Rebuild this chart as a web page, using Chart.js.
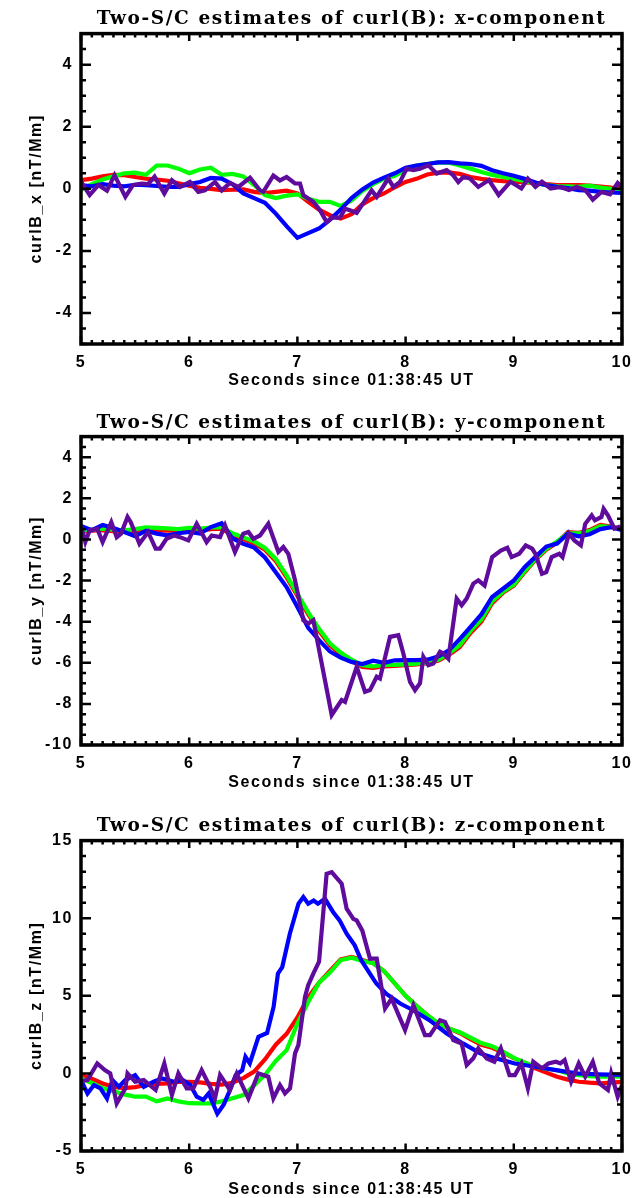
<!DOCTYPE html>
<html><head><meta charset="utf-8">
<script src="https://cdn.jsdelivr.net/npm/chart.js@4.4.1/dist/chart.umd.min.js"></script>
<style>
html,body{margin:0;padding:0;background:#fff;}
body{width:644px;height:1198px;position:relative;overflow:hidden;}
.panel{position:absolute;left:0;width:644px;}
canvas{display:block;}
</style></head><body>
<div class="panel" style="top:0;height:400px"><canvas id="c1" width="644" height="400"></canvas></div>
<div class="panel" style="top:400px;height:400px"><canvas id="c2" width="644" height="400"></canvas></div>
<div class="panel" style="top:800px;height:398px"><canvas id="c3" width="644" height="398"></canvas></div>
<script>
// ---------------- data ----------------
const X_TICKS = [5, 6, 7, 8, 9, 10];
const Y_TICKS_X = [-4, -2, 0, 2, 4];
const Y_TICKS_Y = [-10, -8, -6, -4, -2, 0, 2, 4];
const Y_TICKS_Z = [-5, 0, 5, 10, 15];

const T_SMOOTH = [5.0,5.1,5.2,5.3,5.4,5.5,5.6,5.7,5.8,5.9,6.0,6.1,6.2,6.3,6.4,6.5,6.6,6.7,6.8,6.9,
  7.0,7.1,7.2,7.3,7.4,7.5,7.6,7.7,7.8,7.9,8.0,8.1,8.2,8.3,8.4,8.5,8.6,8.7,8.8,8.9,
  9.0,9.1,9.2,9.3,9.4,9.5,9.6,9.7,9.8,9.9,10.0];

// x-component
const X_RED = [0.28,0.33,0.40,0.45,0.44,0.38,0.33,0.30,0.26,0.18, 0.10,0.03,0.00,-0.04,-0.03,-0.02,-0.10,-0.14,-0.10,-0.06,
  -0.15,-0.42,-0.67,-0.85,-0.96,-0.82,-0.50,-0.30,-0.15,0.05, 0.22,0.32,0.46,0.52,0.53,0.48,0.38,0.32,0.28,0.25,
  0.23,0.21,0.19,0.15,0.12,0.12,0.12,0.10,0.07,0.04, 0.02];
const X_GREEN = [-0.04,0.15,0.30,0.40,0.50,0.52,0.45,0.75,0.75,0.65, 0.50,0.62,0.68,0.45,0.48,0.40,0.12,-0.20,-0.30,-0.22,
  -0.18,-0.32,-0.42,-0.42,-0.55,-0.38,-0.07,0.15,0.32,0.42, 0.60,0.75,0.80,0.85,0.84,0.75,0.65,0.54,0.45,0.38,
  0.32,0.25,0.18,0.12,0.08,0.08,0.06,0.10,0.04,0.00, -0.04];
const X_BLUE = [0.12,0.08,0.15,0.10,0.08,0.13,0.12,0.09,0.06,0.06, 0.15,0.22,0.35,0.33,0.15,-0.15,-0.30,-0.45,-0.80,-1.20,
  -1.58,-1.43,-1.28,-1.00,-0.67,-0.30,-0.02,0.20,0.36,0.50, 0.68,0.75,0.80,0.85,0.86,0.82,0.80,0.74,0.60,0.50,
  0.42,0.32,0.20,0.12,0.06,0.02,-0.04,-0.06,-0.10,-0.12, -0.13];
const X_PURPLE_T = [5.0,5.08,5.16,5.24,5.31,5.41,5.48,5.56,5.62,5.68,5.77,5.84,5.915,6.007,6.084,6.146,6.238,6.3,6.377,6.454,
  6.562,6.654,6.685,6.778,6.839,6.9,6.978,7.024,7.055,7.147,7.209,7.27,7.317,7.394,7.44,7.486,7.548,7.625,7.686,7.733,
  7.779,7.84,7.887,7.948,8.01,8.072,8.133,8.21,8.287,8.38,8.441,8.487,8.534,8.595,8.672,8.77,8.86,8.97,9.07,9.13,
  9.2,9.26,9.34,9.43,9.51,9.58,9.66,9.73,9.81,9.89,9.96,10.0];
const X_PURPLE = [0.23,-0.2,0.12,-0.06,0.44,-0.26,0.12,0.17,0.15,0.39,-0.15,0.28,0.06,0.22,-0.1,-0.05,0.22,-0.05,0.19,0.06,
  0.36,-0.05,-0.1,0.43,0.27,0.38,0.17,0.17,-0.21,-0.42,-0.69,-1.07,-0.93,-0.93,-0.64,-0.69,-0.78,-0.37,-0.05,-0.26,
  0.0,0.33,0.06,0.22,0.65,0.6,0.65,0.76,0.49,0.6,0.43,0.22,0.38,0.33,0.06,0.28,-0.2,0.23,0.01,0.33,
  0.06,0.23,0.01,0.06,-0.04,0.06,-0.04,-0.35,-0.1,-0.18,0.19,0.06];

// y-component
const Y_RED = [0.38,0.42,0.45,0.40,0.36,0.40,0.45,0.45,0.42,0.42, 0.45,0.42,0.50,0.52,0.20,0.02,-0.20,-0.50,-1.05,-1.85,
  -2.75,-3.65,-4.45,-5.15,-5.60,-5.92,-6.20,-6.25,-6.18,-6.15, -6.12,-6.08,-6.02,-5.90,-5.62,-5.25,-4.55,-4.00,-3.10,-2.60,
  -2.25,-1.60,-1.00,-0.50,-0.15,0.35,0.32,0.45,0.70,0.62, 0.50];
const Y_GREEN = [0.44,0.48,0.52,0.48,0.44,0.50,0.58,0.56,0.54,0.50, 0.56,0.52,0.58,0.60,0.30,0.10,-0.10,-0.42,-0.95,-1.75,
  -2.65,-3.55,-4.35,-5.05,-5.50,-5.85,-6.12,-6.18,-6.10,-6.10, -6.08,-6.04,-5.98,-5.85,-5.55,-5.15,-4.45,-3.90,-3.00,-2.55,
  -2.20,-1.55,-0.95,-0.45,-0.10,0.30,0.30,0.40,0.65,0.60, 0.50];
const Y_BLUE = [0.65,0.45,0.70,0.55,0.36,0.15,0.42,0.28,0.20,0.30, 0.36,0.28,0.60,0.78,0.05,-0.21,-0.40,-0.88,-1.60,-2.32,
  -3.29,-4.30,-4.90,-5.45,-5.75,-5.96,-6.06,-5.90,-6.00,-5.88, -5.87,-5.87,-5.85,-5.70,-5.40,-4.85,-4.26,-3.65,-2.80,-2.40,
  -2.00,-1.35,-0.85,-0.35,-0.20,0.28,0.15,0.25,0.50,0.60, 0.45];
const Y_PURPLE_T = [5.0,5.04,5.08,5.15,5.2,5.28,5.33,5.37,5.43,5.46,5.54,5.62,5.69,5.73,5.79,5.86,5.915,5.992,6.069,6.161,
  6.208,6.285,6.331,6.423,6.5,6.547,6.593,6.654,6.731,6.824,6.87,6.916,6.978,7.055,7.101,7.147,7.317,7.409,7.44,7.548,
  7.625,7.671,7.733,7.763,7.856,7.933,7.979,8.041,8.087,8.133,8.164,8.21,8.256,8.318,8.349,8.395,8.472,8.518,8.564,8.626,
  8.672,8.73,8.8,8.88,8.94,8.98,9.05,9.11,9.17,9.2,9.26,9.3,9.35,9.42,9.45,9.51,9.56,9.62,9.66,9.72,
  9.75,9.81,9.83,9.87,9.93,9.97,10.0];
const Y_PURPLE = [0.68,-0.13,0.44,0.52,-0.13,0.84,0.11,0.28,1.09,0.84,-0.21,0.36,-0.45,-0.45,0.03,0.19,0.11,-0.05,0.76,-0.13,
  0.19,0.11,0.68,-0.61,0.28,0.36,0.03,0.19,0.76,-0.61,-0.37,-0.7,-1.99,-3.93,-4.09,-3.93,-8.54,-7.81,-7.9,-6.2,
  -7.41,-7.33,-6.68,-6.77,-4.74,-4.66,-5.55,-6.93,-7.33,-7.0,-5.71,-6.12,-6.04,-5.47,-5.55,-5.8,-2.88,-3.2,-2.88,-2.15,
  -1.99,-2.24,-0.86,-0.54,-0.41,-0.86,-0.7,-0.29,-0.45,-0.7,-1.67,-1.59,-0.86,-0.7,-0.86,0.28,-0.05,-0.29,0.76,1.17,
  0.93,1.09,1.49,1.17,0.52,0.6,0.44];

// z-component
const Z_RED = [-0.11,-0.35,-0.65,-0.88,-0.95,-0.88,-0.75,-0.68,-0.64,-0.55, -0.54,-0.58,-0.68,-0.72,-0.60,-0.30,0.12,0.90,1.85,2.55,
  3.60,4.90,5.85,6.60,7.35,7.50,7.30,7.10,6.60,5.80, 5.00,4.35,3.75,3.20,2.90,2.60,2.20,1.85,1.65,1.35,
  0.98,0.70,0.32,0.05,-0.21,-0.40,-0.54,-0.60,-0.64,-0.60, -0.55];
const Z_GREEN = [-0.32,-0.62,-0.95,-1.15,-1.35,-1.50,-1.50,-1.80,-1.62,-1.80, -1.92,-1.93,-1.93,-1.80,-1.60,-1.40,-0.78,-0.10,0.80,1.50,
  3.20,4.60,5.85,6.50,7.30,7.45,7.25,7.10,6.60,5.80, 5.00,4.35,3.75,3.25,2.90,2.65,2.30,1.95,1.75,1.40,
  1.00,0.70,0.43,0.30,0.20,0.00,-0.12,-0.18,-0.21,-0.21, -0.21];
const Z_BLUE_T = [5.0,5.06,5.12,5.18,5.24,5.29,5.35,5.41,5.5,5.58,5.67,5.75,5.86,5.94,6.01,6.07,6.13,6.18,6.26,6.32,
  6.37,6.43,6.49,6.52,6.56,6.64,6.72,6.78,6.82,6.86,6.93,7.01,7.055,7.1,7.15,7.19,7.255,7.33,7.39,7.455,
  7.53,7.59,7.67,7.73,7.82,7.95,8.07,8.22,8.38,8.53,8.69,8.82,9.01,9.2,9.39,9.58,9.77,10.0];
const Z_BLUE = [-0.43,-1.29,-0.75,-0.96,-1.61,-0.43,-0.86,-0.43,-0.11,-0.86,-0.54,-0.32,-0.54,-0.43,-0.75,-1.5,-1.71,-1.29,-2.6,-2.0,
  -1.18,-0.1,0.21,1.07,0.64,2.36,2.6,4.28,6.43,6.85,9.0,10.93,11.36,10.93,11.14,10.93,11.25,10.39,9.86,9.0,
  8.25,7.29,6.43,5.79,5.14,4.5,4.07,3.43,2.57,1.93,1.29,1.0,0.64,0.43,0.21,0.0,-0.06,-0.1];
const Z_PURPLE_T = [5.0,5.06,5.15,5.22,5.27,5.33,5.41,5.43,5.5,5.58,5.69,5.77,5.84,5.9,5.977,6.038,6.115,6.192,6.238,6.285,
  6.377,6.439,6.547,6.639,6.731,6.778,6.839,6.885,6.932,6.978,7.009,7.07,7.1,7.147,7.2,7.27,7.317,7.409,7.455,7.517,
  7.548,7.6,7.671,7.733,7.81,7.871,7.995,8.072,8.179,8.225,8.318,8.364,8.441,8.518,8.565,8.626,8.672,8.75,8.82,8.88,
  8.96,9.01,9.07,9.13,9.18,9.26,9.32,9.39,9.43,9.47,9.53,9.6,9.66,9.73,9.79,9.87,9.9,9.96,10.0];
const Z_PURPLE = [-0.49,-0.43,0.64,0.21,0.0,-1.93,-0.96,0.0,-0.54,-0.43,-1.07,0.64,-1.39,0.0,-0.96,-0.96,0.21,-0.86,-1.61,-0.11,
  -1.07,0.0,-1.61,0.0,-0.21,-1.61,-0.75,-1.29,-0.96,1.29,1.82,4.93,5.68,6.43,7.2,12.86,12.97,12.22,10.61,9.96,
  9.86,9.2,7.39,7.39,4.18,4.82,2.79,4.39,2.47,2.47,3.43,3.32,2.15,1.93,0.54,0.97,1.61,0.96,0.75,1.61,
  -0.11,-0.11,0.64,-0.96,0.75,0.32,0.64,0.75,0.64,0.86,-0.54,0.64,-0.21,0.75,-0.64,-1.07,0.0,-1.5,-0.75];

// ---------------- drawing ----------------
const COLORS = {red: '#ff0000', green: '#00ff00', blue: '#0000ff', purple: '#5f0c9c'};
const SANS = "'Liberation Sans', Arial, sans-serif";
const SERIF = "'DejaVu Serif', serif";

function pts(ts, vs) { return ts.map((t, i) => ({x: t, y: vs[i]})); }

const idlBox = {
  id: 'idlBox',
  beforeDraw(chart) { chart.ctx.letterSpacing = '1.6px'; },
  afterDraw(chart, args, o) {
    const {ctx, chartArea: a, scales: {x, y}} = chart;
    ctx.save();
    ctx.letterSpacing = '0px';
    ctx.strokeStyle = '#000';
    ctx.lineWidth = 2.5;
    ctx.beginPath();
    const nx = Math.round((x.max - x.min) / o.xMinor);
    for (let i = 0; i <= nx; i++) {
      const v = x.min + i * o.xMinor;
      const major = o.xMajor.some(m => Math.abs(m - v) < 1e-6);
      const len = major ? 7.5 : 4;
      const px = x.getPixelForValue(v);
      ctx.moveTo(px, a.bottom); ctx.lineTo(px, a.bottom - len);
      ctx.moveTo(px, a.top); ctx.lineTo(px, a.top + len);
    }
    const ny = Math.round((y.max - y.min) / o.yMinor);
    for (let i = 0; i <= ny; i++) {
      const v = y.min + i * o.yMinor;
      const major = o.yMajor.some(m => Math.abs(m - v) < 1e-6);
      const len = major ? 10 : 5;
      const py = y.getPixelForValue(v);
      ctx.moveTo(a.left, py); ctx.lineTo(a.left + len, py);
      ctx.moveTo(a.right, py); ctx.lineTo(a.right - len, py);
    }
    ctx.stroke();
    ctx.lineWidth = 3.5;
    ctx.strokeRect(a.left, a.top, a.right - a.left, a.bottom - a.top);
    ctx.restore();
  }
};

function line(label, data, color, order) {
  return {label, data, borderColor: color, backgroundColor: color, borderWidth: 4.2,
    pointRadius: 0, tension: 0, fill: false, order};
}

function makePanel(id, cfg) {
  const tickFont = {family: SANS, weight: 'bold', size: 16};
  new Chart(document.getElementById(id), {
    type: 'line',
    data: {datasets: [
      line('red', pts(T_SMOOTH, cfg.red), COLORS.red, 4),
      line('green', pts(T_SMOOTH, cfg.green), COLORS.green, 3),
      line('blue', pts(cfg.blueT, cfg.blue), COLORS.blue, 2),
      line('purple', pts(cfg.purpleT, cfg.purple), COLORS.purple, 1)
    ]},
    options: {
      responsive: false, animation: false, devicePixelRatio: 1,
      layout: {padding: {left: 0, right: 22, top: 0, bottom: 0}},
      plugins: {
        legend: {display: false}, tooltip: {enabled: false},
        title: {display: true, fullSize: false, text: cfg.title, color: '#000',
          font: {family: SERIF, weight: 'bold', size: 18.5, lineHeight: 1.2},
          padding: {top: cfg.titlePadTop, bottom: cfg.titlePadBottom}},
        idlBox: {xMinor: 0.1, xMajor: X_TICKS, yMinor: cfg.yMinor, yMajor: cfg.yTicks}
      },
      scales: {
        x: {type: 'linear', min: 5, max: 10,
          afterBuildTicks: s => { s.ticks = X_TICKS.map(v => ({value: v})); },
          afterFit: s => { s.height = cfg.xAxisH; },
          grid: {display: false, drawTicks: false}, border: {display: false},
          ticks: {padding: 9, color: '#000', font: tickFont, maxRotation: 0, autoSkip: false,
            callback: v => String(v)},
          title: {display: true, text: 'Seconds since 01:38:45 UT', color: '#000',
            font: {family: SANS, weight: 'bold', size: 16, lineHeight: 1},
            padding: {top: 0, bottom: cfg.xTitlePad}}
        },
        y: {type: 'linear', min: cfg.yMin, max: cfg.yMax,
          afterBuildTicks: s => { s.ticks = cfg.yTicks.map(v => ({value: v})); },
          afterFit: s => { s.width = 81; },
          grid: {display: false, drawTicks: false}, border: {display: false},
          ticks: {padding: 8, color: '#000', font: tickFont, callback: v => String(v)},
          title: {display: true, text: cfg.yTitle, color: '#000',
            font: {family: SANS, weight: 'bold', size: 16, lineHeight: 1},
            padding: {top: 29, bottom: 0}}
        }
      }
    },
    plugins: [idlBox]
  });
}

makePanel('c1', {title: 'Two-S/C estimates of curl(B): x-component', yTitle: 'curlB_x [nT/Mm]',
  yMin: -5, yMax: 5, yTicks: Y_TICKS_X, yMinor: 0.5,
  red: X_RED, green: X_GREEN, blueT: T_SMOOTH, blue: X_BLUE, purpleT: X_PURPLE_T, purple: X_PURPLE,
  titlePadTop: 7.7, titlePadBottom: 3.7, xAxisH: 56, xTitlePad: 11.5});
makePanel('c2', {title: 'Two-S/C estimates of curl(B): y-component', yTitle: 'curlB_y [nT/Mm]',
  yMin: -10, yMax: 5, yTicks: Y_TICKS_Y, yMinor: 0.5,
  red: Y_RED, green: Y_GREEN, blueT: T_SMOOTH, blue: Y_BLUE, purpleT: Y_PURPLE_T, purple: Y_PURPLE,
  titlePadTop: 12.2, titlePadBottom: 2.2, xAxisH: 55, xTitlePad: 9.5});
makePanel('c3', {title: 'Two-S/C estimates of curl(B): z-component', yTitle: 'curlB_z [nT/Mm]',
  yMin: -5, yMax: 15, yTicks: Y_TICKS_Z, yMinor: 1,
  red: Z_RED, green: Z_GREEN, blueT: Z_BLUE_T, blue: Z_BLUE, purpleT: Z_PURPLE_T, purple: Z_PURPLE,
  titlePadTop: 15.2, titlePadBottom: 3.2, xAxisH: 47, xTitlePad: 0.5});
</script>
</body></html>
